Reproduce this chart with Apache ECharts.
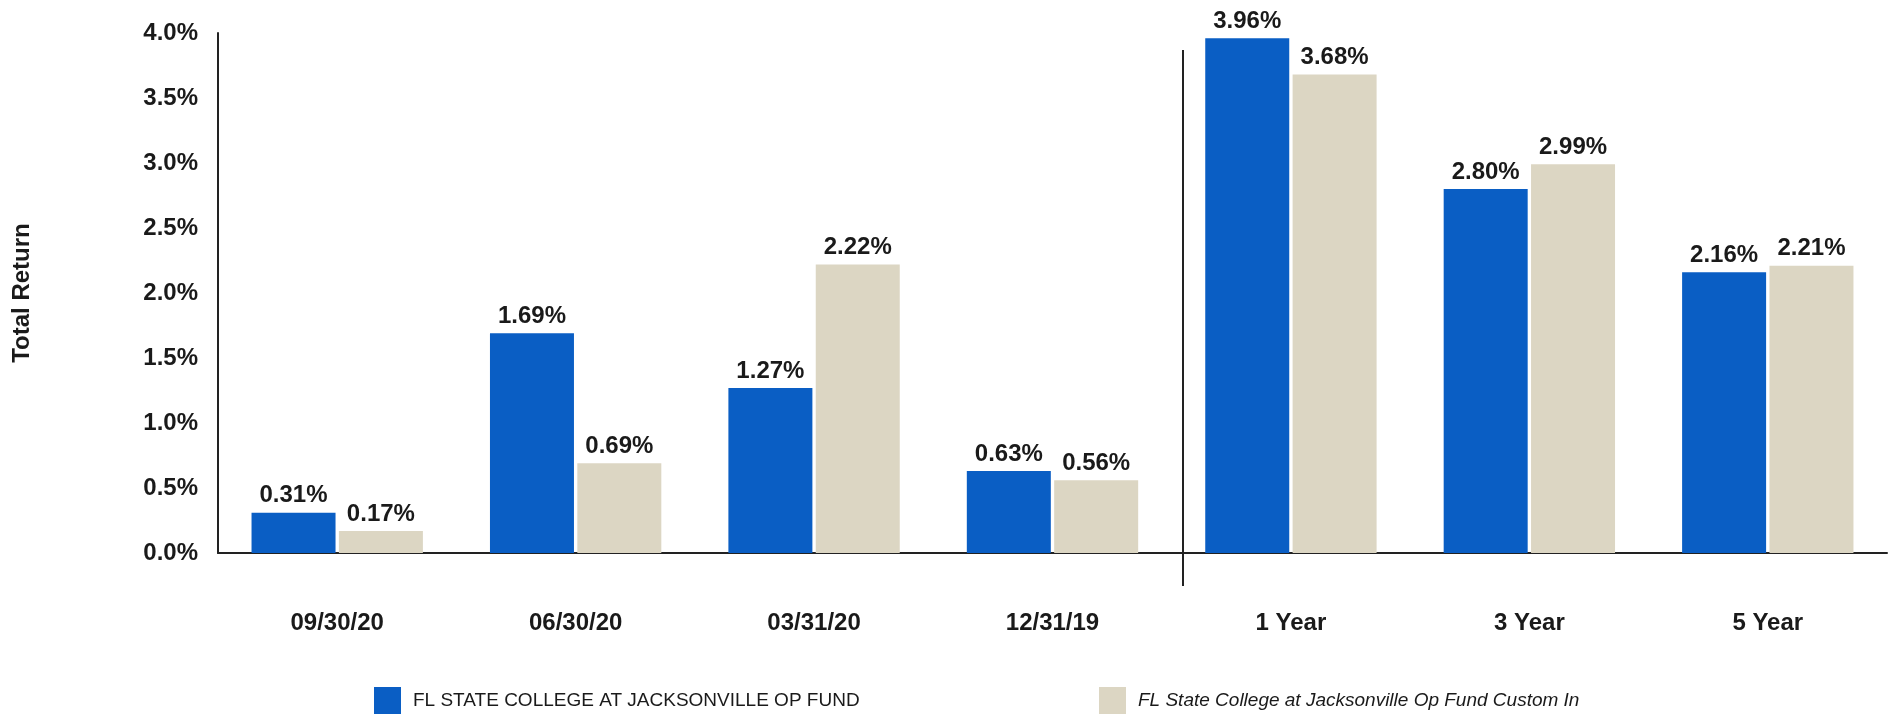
<!DOCTYPE html>
<html>
<head>
<meta charset="utf-8">
<title>Total Return</title>
<script src="https://cdn.jsdelivr.net/npm/echarts@6/dist/echarts.min.js"></script>
<style>
  html, body { margin: 0; padding: 0; background: #ffffff; }
  #chart { width: 1891px; height: 714px; }
</style>
</head>
<body>
<div id="chart"></div>
<script>
// Periods shown on the category axis
const categories = ['09/30/20', '06/30/20', '03/31/20', '12/31/19', '1 Year', '3 Year', '5 Year'];

// Total returns, in percent
const fundName = 'FL STATE COLLEGE AT JACKSONVILLE OP FUND';
const fundValues = [0.31, 1.69, 1.27, 0.63, 3.96, 2.80, 2.16];

const indexName = 'FL State College at Jacksonville Op Fund Custom In';
const indexValues = [0.17, 0.69, 2.22, 0.56, 3.68, 2.99, 2.21];

// Value-axis range and step
const yMin = 0;
const yMax = 4;
const yStep = 0.5;

const BLUE = '#0a5ec4';
const BEIGE = '#dcd6c3';
const TEXT = '#1a1a1a';
const FONT = 'Arial, "Liberation Sans", Helvetica, sans-serif';

const valueLabel = {
  show: true,
  position: 'top',
  distance: 5,
  color: TEXT,
  fontFamily: FONT,
  fontWeight: 'bold',
  fontSize: 24,
  formatter: p => p.value.toFixed(2) + '%'
};

const legendText = { fontFamily: FONT, fontSize: 19, color: TEXT, padding: [0, 0, 0, 7] };

const chart = echarts.init(document.getElementById('chart'), null, { renderer: 'canvas' });

chart.setOption({
  backgroundColor: '#ffffff',
  animation: false,
  grid: { left: 218, right: 4, top: 33, bottom: 161, containLabel: false },
  legend: [
    {
      data: [fundName],
      left: 374,
      top: 687,
      padding: 0,
      itemWidth: 27,
      itemHeight: 27,
      icon: 'rect',
      textStyle: legendText
    },
    {
      data: [indexName],
      left: 1099,
      top: 687,
      padding: 0,
      itemWidth: 27,
      itemHeight: 27,
      icon: 'rect',
      textStyle: Object.assign({}, legendText, { fontStyle: 'italic' })
    }
  ],
  xAxis: {
    type: 'category',
    data: categories,
    boundaryGap: true,
    axisLine: { show: true, lineStyle: { color: '#222', width: 2 } },
    axisTick: { show: false },
    axisLabel: {
      margin: 58,
      color: TEXT,
      fontFamily: FONT,
      fontWeight: 'bold',
      fontSize: 24
    },
    splitLine: { show: false }
  },
  yAxis: {
    type: 'value',
    min: yMin,
    max: yMax,
    interval: yStep,
    name: 'Total Return',
    nameLocation: 'middle',
    nameGap: 184,
    nameRotate: 90,
    nameTextStyle: { color: TEXT, fontFamily: FONT, fontWeight: 'bold', fontSize: 24 },
    axisLine: { show: true, lineStyle: { color: '#222', width: 2 } },
    axisTick: { show: false },
    splitLine: { show: false },
    axisLabel: {
      margin: 20,
      color: TEXT,
      fontFamily: FONT,
      fontWeight: 'bold',
      fontSize: 24,
      formatter: v => v.toFixed(1) + '%'
    }
  },
  series: [
    {
      name: fundName,
      type: 'bar',
      data: fundValues,
      barWidth: 84,
      barGap: '4%',
      itemStyle: { color: BLUE },
      label: valueLabel
    },
    {
      name: indexName,
      type: 'bar',
      data: indexValues,
      barWidth: 84,
      barGap: '4%',
      itemStyle: { color: BEIGE },
      label: valueLabel
    }
  ],
  // Vertical rule separating the quarterly periods from the trailing-year periods
  graphic: [
    {
      type: 'line',
      shape: { x1: 1183, y1: 50, x2: 1183, y2: 586 },
      style: { stroke: '#222', lineWidth: 2 },
      z: 10
    }
  ]
});
</script>
</body>
</html>
